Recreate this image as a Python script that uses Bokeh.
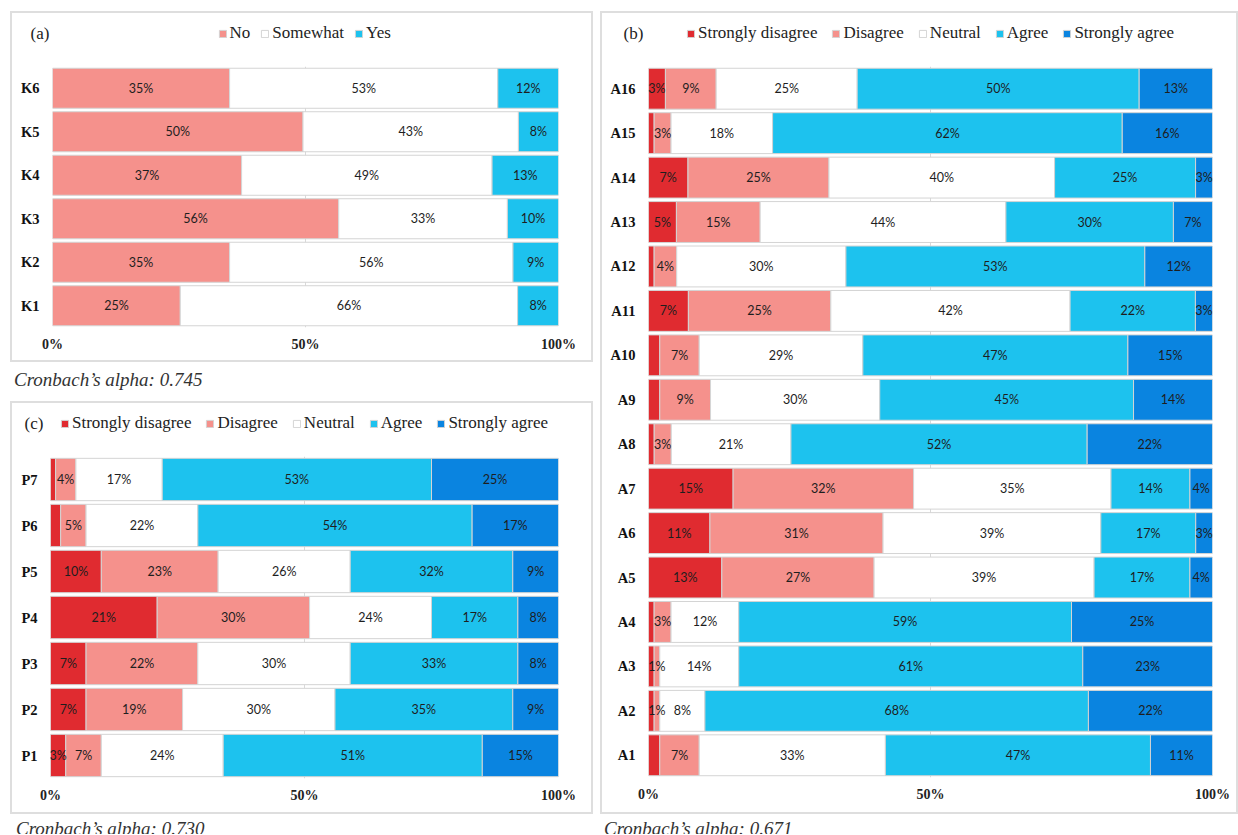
from bokeh.plotting import figure
from bokeh.models import (FactorRange, Range1d, Legend, LegendItem, Label, FixedTicker,
                          NumeralTickFormatter, ColumnDataSource, Div)
from bokeh.layouts import row, column
from bokeh.embed import file_html
from bokeh.resources import INLINE
from bokeh.core.properties import value

# ---------------- data ----------------
# Panel (a) knowledge items
k_items = ["K1", "K2", "K3", "K4", "K5", "K6"]
k_no = [25, 35, 56, 37, 50, 35]
k_somewhat = [66, 56, 33, 49, 43, 53]
k_yes = [8, 9, 10, 13, 8, 12]
k_levels = ["No", "Somewhat", "Yes"]

# Panel (b) attitude items
a_items = ["A1", "A2", "A3", "A4", "A5", "A6", "A7", "A8",
           "A9", "A10", "A11", "A12", "A13", "A14", "A15", "A16"]
a_sd = [2, 1, 1, 1, 13, 11, 15, 1, 2, 2, 7, 1, 5, 7, 1, 3]
a_d = [7, 1, 1, 3, 27, 31, 32, 3, 9, 7, 25, 4, 15, 25, 3, 9]
a_n = [33, 8, 14, 12, 39, 39, 35, 21, 30, 29, 42, 30, 44, 40, 18, 25]
a_a = [47, 68, 61, 59, 17, 17, 14, 52, 45, 47, 22, 53, 30, 25, 62, 50]
a_sa = [11, 22, 23, 25, 4, 3, 4, 22, 14, 15, 3, 12, 7, 3, 16, 13]

# Panel (c) practice items
p_items = ["P1", "P2", "P3", "P4", "P5", "P6", "P7"]
p_sd = [3, 7, 7, 21, 10, 2, 1]
p_d = [7, 19, 22, 30, 23, 5, 4]
p_n = [24, 30, 30, 24, 26, 22, 17]
p_a = [51, 35, 33, 17, 32, 54, 53]
p_sa = [15, 9, 8, 8, 9, 17, 25]

likert_levels = ["Strongly disagree", "Disagree", "Neutral", "Agree", "Strongly agree"]
x_ticks = [0, 0.5, 1]

alpha_a = "Cronbach’s alpha: 0.745"
alpha_b = "Cronbach’s alpha: 0.671"
alpha_c = "Cronbach’s alpha: 0.730"

# ---------------- style ----------------
C_SD = "#E02B30"
C_D = "#F5918C"
C_N = "#FFFFFF"
C_A = "#1DC2EE"
C_SA = "#0A84E0"
EDGE = "#d4d4d4"
SERIF = "Liberation Serif"
BOX = {"box-shadow": "0 0 0 2px #dedede"}
LEG_FS = 17
GLYPH = 9
STANDOFF = 3
HEADER_H = 48

# Times-compatible advance widths (em) used to centre the legend row
_TNR = {"S": .556, "t": .278, "r": .333, "o": .5, "n": .5, "g": .5, "l": .278, "y": .5,
        " ": .25, "d": .5, "i": .278, "s": .389, "a": .444, "e": .444, "D": .722,
        "N": .722, "u": .5, "A": .722, "Y": .722, "m": .778, "w": .722, "h": .5}


def legend_width(names, spacing):
    w = sum(GLYPH + STANDOFF + sum(_TNR.get(c, .5) for c in n) * LEG_FS for n in names)
    return w + spacing * (len(names) - 1)


def make_panel(items, series, names, colors, width, main_h, borders,
               letter, letter_x, spacing, bar_h):
    left_b, right_b, top_b, bottom_b = borders
    # --- header strip: panel letter + legend
    hdr = figure(width=width, height=HEADER_H, output_backend="svg", toolbar_location=None,
                 tools="", x_range=Range1d(0, width), y_range=Range1d(0, HEADER_H),
                 x_axis_type=None, y_axis_type=None, min_border=0, frame_align=False,
                 background_fill_color="white", border_fill_color="white",
                 outline_line_color=None)
    hdr.xgrid.visible = False
    hdr.ygrid.visible = False
    # swatch renderers for the legend (kept below the visible strip)
    dummies = [hdr.hbar(y=[-100], left=[0], right=[1], height=1, color=c, line_color=EDGE)
               for c in colors]
    frame_w = width - left_b - right_b
    lw = legend_width(names, spacing)
    lx = left_b + frame_w / 2 - lw / 2
    legend = Legend(items=[LegendItem(label=n, renderers=[r]) for n, r in zip(names, dummies)],
                    location=(lx, 18), orientation="horizontal", padding=0, margin=0,
                    spacing=spacing, label_standoff=STANDOFF, glyph_width=GLYPH,
                    glyph_height=GLYPH, label_height=20, label_text_font=SERIF,
                    label_text_font_size="%dpx" % LEG_FS, label_text_color="#222222",
                    border_line_color=None, background_fill_alpha=0)
    hdr.add_layout(legend, "center")
    hdr.add_layout(Label(x=letter_x, y=28, text=letter, text_font=SERIF,
                         text_font_size="17px", text_baseline="middle",
                         text_color="#222222"))

    # --- main stacked bars
    p = figure(width=width, height=main_h, output_backend="svg", toolbar_location=None,
               tools="", x_range=Range1d(0, 1), y_range=FactorRange(factors=items),
               min_border_left=left_b, min_border_right=right_b,
               min_border_top=top_b, min_border_bottom=bottom_b, frame_align=False,
               background_fill_color="white", border_fill_color="white",
               outline_line_color=None)
    totals = [sum(vals) for vals in zip(*series)]
    data = {"item": items}
    keys = []
    for i, s in enumerate(series):
        k = "s%d" % i
        keys.append(k)
        data[k] = [v / t for v, t in zip(s, totals)]
    src = ColumnDataSource(data)
    p.hbar_stack(keys, y="item", height=bar_h, color=colors,
                 line_color=EDGE, line_width=1, source=src)

    xs, ys, ts = [], [], []
    for j, it in enumerate(items):
        cum = 0.0
        for i, s in enumerate(series):
            frac = s[j] / totals[j]
            show = not (len(series) == 5 and i == 0 and s[j] < 3)
            if show:
                xs.append(cum + frac / 2)
                ys.append(it)
                ts.append("%d%%" % s[j])
            cum += frac
    lsrc = ColumnDataSource(dict(x=xs, y=ys, t=ts))
    p.text(x="x", y="y", text="t", source=lsrc, text_align="center",
           text_baseline="middle", text_font=value("Lato"), text_font_size="12.5px",
           text_color="#1e1e1e")

    p.xaxis.ticker = FixedTicker(ticks=x_ticks)
    p.xaxis.formatter = NumeralTickFormatter(format="0%")
    p.xaxis.axis_line_color = None
    p.xaxis.major_tick_line_color = None
    p.xaxis.minor_tick_line_color = None
    p.xaxis.major_tick_out = 0
    p.xaxis.minor_tick_out = 0
    p.xaxis.major_label_standoff = 9
    p.xaxis.major_label_text_font = SERIF
    p.xaxis.major_label_text_font_style = "bold"
    p.xaxis.major_label_text_font_size = "14px"
    p.xaxis.major_label_text_color = "#222222"
    p.yaxis.axis_line_color = None
    p.yaxis.major_tick_line_color = None
    p.yaxis.minor_tick_line_color = None
    p.yaxis.major_tick_out = 0
    p.yaxis.minor_tick_out = 0
    p.yaxis.major_label_standoff = 13
    p.yaxis.major_label_text_font = SERIF
    p.yaxis.major_label_text_font_style = "bold"
    p.yaxis.major_label_text_font_size = "14.5px"
    p.yaxis.major_label_text_color = "#111111"
    p.ygrid.grid_line_color = None
    p.xgrid.ticker = FixedTicker(ticks=[0.5])
    p.xgrid.grid_line_color = "#d9d9d9"
    p.xgrid.level = "underlay"

    return column(hdr, p, margin=(2, 2, 2, 2), styles=BOX)


panel_a = make_panel(k_items, [k_no, k_somewhat, k_yes], k_levels, [C_D, C_N, C_A],
                     579, 299, (40, 33, 5, 33), "(a)", 18, 10, 0.92)
panel_c = make_panel(p_items, [p_sd, p_d, p_n, p_a, p_sa], likert_levels,
                     [C_SD, C_D, C_N, C_A, C_SA],
                     579, 361, (38, 33, 5, 34), "(c)", 12, 14, 0.92)
panel_b = make_panel(a_items, [a_sd, a_d, a_n, a_a, a_sa], likert_levels,
                     [C_SD, C_D, C_N, C_A, C_SA],
                     634, 751, (46, 24, 5, 35), "(b)", 21, 14, 0.92)


def note(text, w, h, pad_top, pad_left):
    return Div(text='<div style="font-family:\'Liberation Serif\';font-style:italic;'
                    'font-size:19px;color:#333333;white-space:nowrap;padding:%dpx 0 0 %dpx;">%s</div>'
                    % (pad_top, pad_left, text),
               width=w, height=h, margin=0, styles={"overflow": "hidden"})


div_a = note(alpha_a, 583, 39, 4, 4)
div_c = note(alpha_c, 583, 20, 1, 6)
div_b = note(alpha_b, 638, 20, 1, 4)

left = column(panel_a, div_a, panel_c, div_c, margin=(11, 0, 0, 10))
right = column(panel_b, div_b, margin=(11, 0, 0, 7))
root = row(left, right)

open("out.html", "w").write(file_html(root, INLINE))
